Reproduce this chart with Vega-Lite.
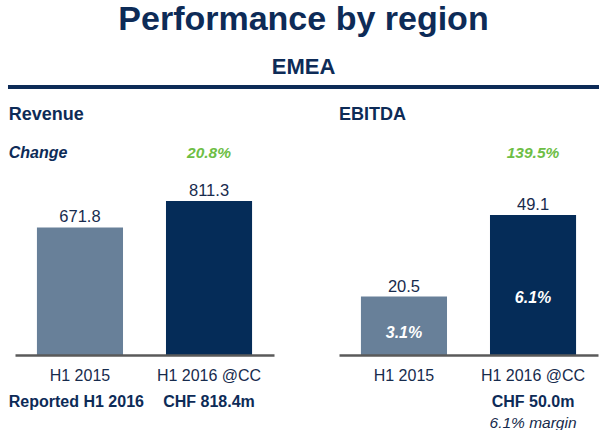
{
  "$schema": "https://vega.github.io/schema/vega-lite/v6.json",
  "padding": {"left": 7, "top": 3, "right": 2, "bottom": 0},
  "autosize": {"type": "pad"},
  "background": "white",
  "config": {"font": "Liberation Sans", "view": {"stroke": null}},
  "title": {
    "text": "Performance by region",
    "subtitle": "EMEA",
    "anchor": "middle",
    "fontSize": 34,
    "fontWeight": "bold",
    "color": "#0D2B57",
    "subtitleFontSize": 22,
    "subtitleFontWeight": "bold",
    "subtitleColor": "#0D2B57",
    "subtitlePadding": 20,
    "offset": 7
  },
  "spacing": 17,
  "vconcat": [
    {
      "width": 584,
      "height": 4,
      "data": {"values": [{}]},
      "mark": {"type": "rect", "color": "#0D2B57"},
      "encoding": {
        "x": {"datum": -0.012, "type": "quantitative", "scale": {"domain": [0, 1], "nice": false, "zero": false}, "axis": null},
        "x2": {"datum": 1},
        "y": {"datum": 0, "type": "quantitative", "scale": {"domain": [0, 1], "nice": false, "zero": false}, "axis": null},
        "y2": {"datum": 1}
      }
    },
    {
      "spacing": 65,
      "hconcat": [
        {
          "width": 259,
          "height": 218,
          "title": {"text": "Revenue", "anchor": "start", "fontSize": 18, "fontWeight": "bold", "color": "#0D2B57", "offset": 12.7},
          "data": {"values": [
            {"period": "H1 2015", "value": 671.8},
            {"period": "H1 2016 @CC", "value": 811.3, "change": "20.8%", "note": "CHF 818.4m"}
          ]},
          "encoding": {
            "x": {
              "field": "period", "type": "nominal", "sort": null,
              "scale": {"paddingInner": 0.333, "paddingOuter": 0.17},
              "axis": {"title": null, "labelAngle": 0, "labelFontSize": 16, "labelColor": "#172B4D", "labelPadding": 12, "ticks": false, "domainColor": "#5A5A5A", "domainWidth": 2.5, "zindex": 1}
            }
          },
          "layer": [
            {
              "mark": {"type": "bar"},
              "encoding": {
                "y": {"field": "value", "type": "quantitative", "scale": {"domain": [0, 1148.6], "nice": false, "zero": true}, "axis": null},
                "color": {"field": "period", "type": "nominal", "scale": {"domain": ["H1 2015", "H1 2016 @CC"], "range": ["#688099", "#052C58"]}, "legend": null}
              }
            },
            {
              "mark": {"type": "text", "dy": -10, "fontSize": 16.5, "color": "#172B4D"},
              "encoding": {
                "y": {"field": "value", "type": "quantitative"},
                "text": {"field": "value", "type": "quantitative", "format": ".1f"}
              }
            },
            {
              "transform": [{"filter": "isValid(datum.change)"}],
              "mark": {"type": "text", "fontSize": 15.5, "fontWeight": "bold", "fontStyle": "italic", "color": "#6DBE45"},
              "encoding": {
                "y": {"datum": 1064.3, "type": "quantitative"},
                "text": {"field": "change", "type": "nominal"}
              }
            },
            {
              "data": {"values": [{"label": "Change"}]},
              "mark": {"type": "text", "align": "left", "dx": -71.2, "fontSize": 16, "fontWeight": "bold", "fontStyle": "italic", "color": "#0D2B57"},
              "encoding": {
                "x": {"datum": "H1 2015", "type": "nominal"},
                "y": {"datum": 1064.3, "type": "quantitative"},
                "text": {"field": "label", "type": "nominal"}
              }
            },
            {
              "data": {"values": [{"label": "Reported H1 2016"}]},
              "mark": {"type": "text", "align": "left", "dx": -71.2, "dy": 47, "fontSize": 16, "fontWeight": "bold", "color": "#0D2B57"},
              "encoding": {
                "x": {"datum": "H1 2015", "type": "nominal"},
                "y": {"datum": 0, "type": "quantitative"},
                "text": {"field": "label", "type": "nominal"}
              }
            },
            {
              "transform": [{"filter": "isValid(datum.note)"}],
              "mark": {"type": "text", "dy": 47, "fontSize": 16, "fontWeight": "bold", "color": "#0D2B57"},
              "encoding": {
                "y": {"datum": 0, "type": "quantitative"},
                "text": {"field": "note", "type": "nominal"}
              }
            }
          ]
        },
        {
          "width": 259,
          "height": 218,
          "title": {"text": "EBITDA", "anchor": "start", "fontSize": 18, "fontWeight": "bold", "color": "#0D2B57", "offset": 12.7},
          "data": {"values": [
            {"period": "H1 2015", "value": 20.5, "margin": "3.1%"},
            {"period": "H1 2016 @CC", "value": 49.1, "margin": "6.1%", "change": "139.5%", "note": "CHF 50.0m", "note2": "6.1% margin"}
          ]},
          "encoding": {
            "x": {
              "field": "period", "type": "nominal", "sort": null,
              "scale": {"paddingInner": 0.333, "paddingOuter": 0.17},
              "axis": {"title": null, "labelAngle": 0, "labelFontSize": 16, "labelColor": "#172B4D", "labelPadding": 12, "ticks": false, "domainColor": "#5A5A5A", "domainWidth": 2.5, "zindex": 1}
            }
          },
          "layer": [
            {
              "mark": {"type": "bar"},
              "encoding": {
                "y": {"field": "value", "type": "quantitative", "scale": {"domain": [0, 76.5], "nice": false, "zero": true}, "axis": null},
                "color": {"field": "period", "type": "nominal", "scale": {"domain": ["H1 2015", "H1 2016 @CC"], "range": ["#688099", "#052C58"]}, "legend": null}
              }
            },
            {
              "mark": {"type": "text", "dy": -10, "fontSize": 16.5, "color": "#172B4D"},
              "encoding": {
                "y": {"field": "value", "type": "quantitative"},
                "text": {"field": "value", "type": "quantitative", "format": ".1f"}
              }
            },
            {
              "transform": [{"filter": "datum.period == 'H1 2015'"}],
              "mark": {"type": "text", "fontSize": 16, "fontWeight": "bold", "fontStyle": "italic", "color": "white"},
              "encoding": {
                "y": {"datum": 7.72, "type": "quantitative"},
                "text": {"field": "margin", "type": "nominal"}
              }
            },
            {
              "transform": [{"filter": "datum.period == 'H1 2016 @CC'"}],
              "mark": {"type": "text", "fontSize": 16, "fontWeight": "bold", "fontStyle": "italic", "color": "white"},
              "encoding": {
                "y": {"datum": 19.9, "type": "quantitative"},
                "text": {"field": "margin", "type": "nominal"}
              }
            },
            {
              "transform": [{"filter": "isValid(datum.change)"}],
              "mark": {"type": "text", "fontSize": 15.5, "fontWeight": "bold", "fontStyle": "italic", "color": "#6DBE45"},
              "encoding": {
                "y": {"datum": 70.9, "type": "quantitative"},
                "text": {"field": "change", "type": "nominal"}
              }
            },
            {
              "transform": [{"filter": "isValid(datum.note)"}],
              "mark": {"type": "text", "dy": 47, "fontSize": 16, "fontWeight": "bold", "color": "#0D2B57"},
              "encoding": {
                "y": {"datum": 0, "type": "quantitative"},
                "text": {"field": "note", "type": "nominal"}
              }
            },
            {
              "transform": [{"filter": "isValid(datum.note2)"}],
              "mark": {"type": "text", "dy": 68, "fontSize": 15.5, "fontStyle": "italic", "color": "#172B4D"},
              "encoding": {
                "y": {"datum": 0, "type": "quantitative"},
                "text": {"field": "note2", "type": "nominal"}
              }
            }
          ]
        }
      ]
    }
  ]
}
